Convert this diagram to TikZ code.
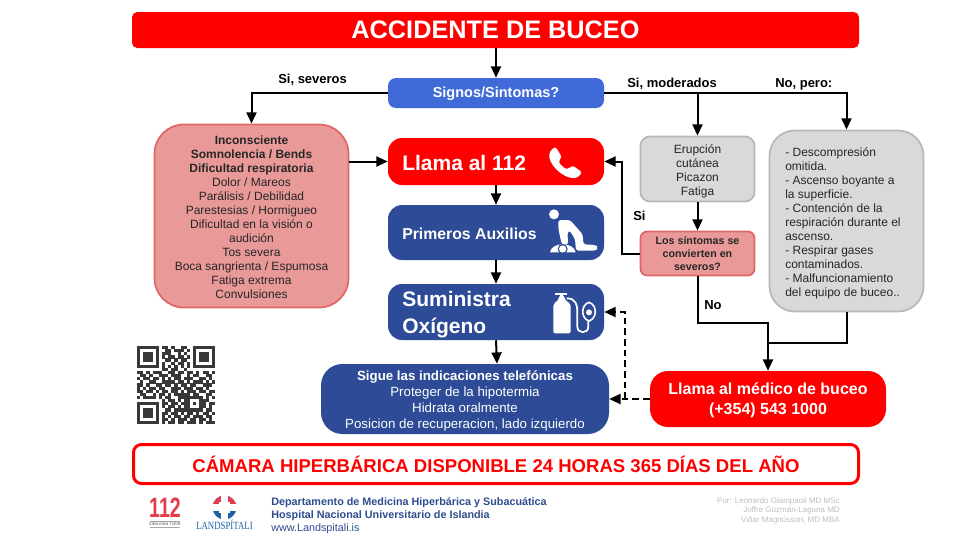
\documentclass[tikz,border=0pt]{standalone}
\usepackage{fontspec}
\usepackage{graphicx}
\setmainfont{Liberation Sans}
\newfontfamily\serifcond{Liberation Serif}
\usetikzlibrary{arrows.meta,calc}
\definecolor{cred}{HTML}{FF0000}
\definecolor{cnavy}{HTML}{2D4B96}
\definecolor{cblue}{HTML}{3F6AD8}
\definecolor{cpink}{HTML}{EA9999}
\definecolor{cpinkb}{HTML}{E06666}
\definecolor{cgrey}{HTML}{D9D9D9}
\definecolor{cgreyb}{HTML}{B7B7B7}
\definecolor{cfoot}{HTML}{2E4C8E}
\definecolor{cauth}{HTML}{BDBDBD}
\definecolor{cqr}{HTML}{383838}
\definecolor{clogo}{HTML}{E23B4B}
\definecolor{clblue}{HTML}{1F5FA8}
\newcommand{\pxf}[2]{\fontsize{\dimexpr#1pt*3/4\relax}{\dimexpr#2pt*3/4\relax}\selectfont}
\newcount\qrc
\newcount\qrr
\def\qrrow#1{\qrc=0 \qrscan#1\relax\advance\qrr by 1 }
\def\qrscan#1{\ifx#1\relax\else\if#11\fill[cqr] ({137+3.12*\the\qrc},{346+3.12*\the\qrr}) rectangle +(3.2,3.2);\fi\advance\qrc by 1 \expandafter\qrscan\fi}
\tikzset{
 wh/.style 2 args={minimum width=#1*.75pt,minimum height=#2*.75pt,inner sep=0pt},
 navybox/.style={fill=cnavy,draw=none,text=white},
 redbox/.style={fill=cred,draw=none,text=white},
 pinkbox/.style={fill=cpink,draw=cpinkb,line width=1.3pt,text=black!85},
 greybox/.style={fill=cgrey,draw=cgreyb,line width=1.3pt,text=black!85},
 lnk/.style={line width=1.5pt,draw=black,-{Triangle[length=8.5pt,width=7.5pt]}},
 lnkplain/.style={line width=1.5pt,draw=black},
 dlnk/.style={lnk,dash pattern=on 5pt off 3pt},
 lab/.style={font=\bfseries\pxf{13}{15},text=black,inner sep=0pt},
 ico/.style={fill=white,draw=none},
 captxt/.style={inner sep=0pt,align=center},
}
\begin{document}
\begin{tikzpicture}[x=.75pt,y=-.75pt]
\useasboundingbox (0,0) rectangle (960,540);
% boxes
\node[redbox,wh={727}{36},rounded corners=4pt,font=\bfseries\pxf{25.3}{28}] (tit) at (495.5,30) {ACCIDENTE DE BUCEO};
\node[fill=cblue,wh={216}{30},rounded corners=6pt] (sig) at (496,93) {};
\node[captxt,text=white,font=\bfseries\pxf{14.5}{16}] (sigt) at (496,93.5) {Signos/Sintomas?};
\node[pinkbox,wh={194}{183},rounded corners=22pt] (lft) at (251.5,216) {};
\node[captxt,text=black!85,font=\pxf{12}{14}] (lftt) at (251.5,217)
 {\textbf{Inconsciente}\\\textbf{Somnolencia / Bends}\\\textbf{Dificultad respiratoria}\\Dolor / Mareos\\Parálisis / Debilidad\\Parestesias / Hormigueo\\Dificultad en la visión o\\audición\\Tos severa\\Boca sangrienta / Espumosa\\Fatiga extrema\\Convulsiones};
\node[redbox,wh={216}{47},rounded corners=10.5pt] (lla) at (496,161.5) {};
\node[navybox,wh={216}{55},rounded corners=10.5pt] (pri) at (496,232.5) {};
\node[navybox,wh={216}{56},rounded corners=10.5pt] (sum) at (496,312) {};
\node[navybox,wh={288}{70},rounded corners=16pt] (sgu) at (465,399) {};
\node[captxt,text=white,font=\pxf{13.3}{16.3}] (sgut) at (465,401)
 {\textbf{Sigue las indicaciones telefónicas}\\Proteger de la hipotermia\\Hidrata oralmente\\Posicion de recuperacion, lado izquierdo};
\node[redbox,wh={236}{56},rounded corners=13.5pt] (med) at (768,399) {};
\node[captxt,text=white,font=\bfseries\pxf{16}{20}] (medt) at (768,400.5) {Llama al médico de buceo\\(+354) 543 1000};
\node[fill=white,draw=cred,line width=2.25pt,wh={725}{39},rounded corners=6pt,text=cred,font=\bfseries\pxf{18.55}{20}] (cam) at (496,464) {CÁMARA HIPERBÁRICA DISPONIBLE 24 HORAS 365 DÍAS DEL AÑO};
\node[greybox,wh={114}{65},rounded corners=7pt] (eru) at (697.5,169) {};
\node[captxt,text=black!85,font=\pxf{12}{14}] (erut) at (697.5,171) {Erupción\\cutánea\\Picazon\\Fatiga};
\node[pinkbox,wh={114}{44},rounded corners=5pt,align=center,font=\bfseries\pxf{10.7}{13}] (los) at (697.5,253.5) {Los síntomas se\\convierten en\\severos?};
\node[greybox,wh={154}{181},rounded corners=19pt] (gry) at (846.5,221) {};
\node[align=left,anchor=north west,inner sep=0pt,font=\pxf{12}{14},text=black!85] (gryt) at (785,147.5)
 {- Descompresión\\omitida.\\- Ascenso boyante a\\la superficie.\\- Contención de la\\respiración durante el\\ascenso.\\- Respirar gases\\contaminados.\\- Malfuncionamiento\\del equipo de buceo..};
% box captions
\node[anchor=west,inner sep=0pt,text=white,font=\bfseries\pxf{21}{22}] (llat) at (402,162.5) {Llama al 112};
\node[anchor=west,inner sep=0pt,text=white,font=\bfseries\pxf{15.8}{17}] (prit) at (402,233.5) {Primeros Auxilios};
\node[anchor=west,align=left,inner sep=0pt,text=white,font=\bfseries\pxf{21}{27}] (sumt) at (402,315) {Suministra\\Oxígeno};
% connectors
\coordinate (jl) at ($(los.west)+(-18,0)$);
\coordinate (jm) at (med.north |- 0,323);
\coordinate (jg) at (med.north |- 0,343);
\coordinate (jd) at (625,399);
\draw[lnk] (tit.south -| sig.north) -- (sig.north);
\draw[lnk] (sig.west) -| (lft.north);
\draw[lnk] (sig.east) -| (eru.north);
\draw[lnk] (sig.east) -| (gry.north);
\draw[lnk] (lft.east |- lla.west) -- (lla.west);
\draw[lnk] (lla.south) -- (pri.north);
\draw[lnk] (pri.south) -- (sum.north);
\draw[lnk] (sum.south) -- (sgu.north -| 497,0);
\draw[lnk] (eru.south) -- (los.north);
\draw[lnk] (los.west) -- (jl) |- (lla.east);
\draw[lnk] (los.south) |- (jm) -- (med.north);
\draw[lnkplain] (gry.south) |- (jg);
\draw[dlnk] (med.west) -- (sgu.east);
\draw[dlnk] (jd) |- (sum.east);
% labels
\node[lab,anchor=west] (l1) at (278,80) {Si, severos};
\node[lab,anchor=west] (l2) at (627,84) {Si, moderados};
\node[lab,anchor=west] (l3) at (775,84) {No, pero:};
\node[lab,anchor=west] (l4) at (633,216) {Si};
\node[lab,anchor=west] (l5) at (704,305) {No};
% phone
\begin{scope}[shift={(380,130)},x=.25pt,y=-.25pt]
\fill[ico,rounded corners=2pt] (526,49) -- (546,82) -- (535,93) .. controls (541,104) and (552,114) .. (564,118) -- (577,106) -- (607,127) -- (591,144) .. controls (548,146) and (502,100) .. (510,64) -- cycle;
% oxygen
\fill[ico,rounded corners=1.5pt] (520,610) -- (520,522) -- (537,508) -- (537,497) -- (553,497) -- (553,508) -- (572,522) -- (572,610) -- cycle;
\fill[ico] (525,488) rectangle (560,495);
\fill[ico] (541,488) rectangle (548,500);
\draw[white,line width=1.3pt] (560,505) .. controls (588,505) and (592,525) .. (592,545) -- (592,590) .. controls (592,612) and (625,612) .. (625,590) -- (625,572);
\draw[white,line width=1.2pt] (627,517) .. controls (652,525) and (652,565) .. (627,573) .. controls (602,565) and (602,525) .. (627,517) -- cycle;
\fill[ico] (627,547) circle (9);
\end{scope}
% CPR
\begin{scope}[shift={(540,205)},x=.25pt,y=-.25pt]
\fill[ico] (42,28) circle (15);
\fill[ico,rounded corners=2pt] (55,45) -- (90,45) -- (128,88) -- (130,118) -- (168,120) -- (173,128) -- (168,137) -- (108,137) -- (105,102) -- (88,75) -- (82,85) -- (85,118) -- (65,118) -- (55,70) -- cycle;
\fill[ico] (30,142) .. controls (34,110) and (102,110) .. (107,142) -- cycle;
\fill[cnavy] (68,132) circle (15);
\fill[ico] (68,132) circle (11);
\end{scope}
% QR
\begin{scope}
\qrr=0
\qrrow{1111111011010011001111111}
\qrrow{1000001001101110101000001}
\qrrow{1011101011100101001011101}
\qrrow{1011101010110110101011101}
\qrrow{1011101001101011001011101}
\qrrow{1000001010010110101000001}
\qrrow{1111111010101010101111111}
\qrrow{0000000011011001000000000}
\qrrow{1101011100110110110101101}
\qrrow{0110100111011100101100110}
\qrrow{1011011010101101110011010}
\qrrow{0100110011110110101110101}
\qrrow{1101001101101011011001110}
\qrrow{1010110110011101110110100}
\qrrow{1101101011011010111011011}
\qrrow{0110010110101111101100110}
\qrrow{1011110101100111111110101}
\qrrow{0000000010110101100011100}
\qrrow{1111111011011011101011011}
\qrrow{1000001010110101100011010}
\qrrow{1011101001101111111110110}
\qrrow{1011101011011010110101101}
\qrrow{1011101010101101101110110}
\qrrow{1000001011010111011011010}
\qrrow{1111111010110110111010111}
\end{scope}
% 112 logo
\node[inner sep=0pt,text=clogo,font=\bfseries\pxf{28}{28}] (l112) at (165,507.5) {\scalebox{.7}[1]{112}};
\fill[black!35] (150,520.5) rectangle (180,521.5);
\fill[black!35] (150,526.5) rectangle (180,527.5);
\node[inner sep=0pt,text=black!70,font=\pxf{3.8}{4}] (l112t) at (165,524) {EINN EINN TVEIR};
% Landspitali logo
\fill[clblue] (224.5,507.5) circle (12);
\fill[clogo] (212.5,507.5) arc[start angle=180,end angle=360,radius=12] -- cycle;
\fill[white] (221,495) rectangle (228,520);
\fill[white] (212,504) rectangle (237,511);
\fill[white] (219,502) rectangle (230,513);
\node[inner sep=0pt,text=clblue,font=\serifcond\pxf{11}{12}] (llan) at (224.5,524.5) {\scalebox{.8}[1]{LANDSPÍTALI}};
% footer
\node[anchor=west,inner sep=0pt,text=cfoot,font=\bfseries\pxf{10.8}{13}] (f1) at (271,503) {Departamento de Medicina Hiperbárica y Subacuática};
\node[anchor=west,inner sep=0pt,text=cfoot,font=\bfseries\pxf{10.8}{13}] (f2) at (271,516) {Hospital Nacional Universitario de Islandia};
\node[anchor=west,inner sep=0pt,text=cfoot,font=\pxf{10.8}{13}] (f3) at (271,529) {www.Landspitali.is};
\node[anchor=north east,align=right,inner sep=0pt,text=cauth,font=\pxf{8}{9.5}] (au) at (840,497) {Por: Leonardo Giampaoli MD MSc\\Joffre Guzmán-Laguna MD\\Viðar Magnússon, MD MBA};
\end{tikzpicture}
\end{document}
